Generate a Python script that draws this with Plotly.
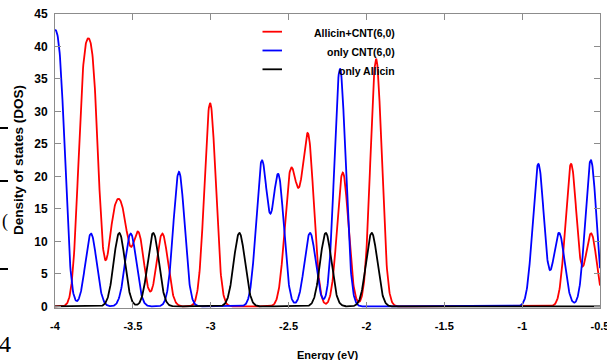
import numpy as np
import plotly.graph_objects as go

# ---------------- data ----------------
series_names = ["Allicin+CNT(6,0)", "only CNT(6,0)", "only Allicin"]

# energy levels (eV) and their broadened peak heights (DOS)
red_centers = [-3.8185, -3.7535, -3.623, -3.563, -3.465, -3.311, -3.004,
               -2.492, -2.440, -2.373, -2.152, -1.938, -0.686, -0.557]
red_heights = [31.0, 31.0, 11.7, 11.7, 11.2, 11.2, 31.3,
               18.0, 7.5, 25.1, 20.6, 38.1, 21.9, 11.2]

blue_centers = [-4.0325, -3.9675, -3.769, -3.514, -3.204, -2.672, -2.566,
                -2.362, -2.170, -0.896, -0.763, -0.559]
blue_heights = [32.0, 32.0, 11.2, 11.2, 20.7, 22.2, 20.1,
                11.3, 36.6, 21.9, 11.3, 22.5]

black_centers = [-3.587, -3.369, -2.816, -2.261, -1.966]
black_heights = [11.3, 11.3, 11.3, 11.3, 11.3]

broadening = 0.036  # gaussian smearing (eV)

x_ticks = [-4, -3.5, -3, -2.5, -2, -1.5, -1, -0.5]
x_tick_labels = ["-4", "-3.5", "-3", "-2.5", "-2", "-1.5", "-1", "-0.5"]
y_ticks = [0, 5, 10, 15, 20, 25, 30, 35, 40, 45]
y_tick_labels = [str(v) for v in y_ticks]

x_title = "Energy (eV)"
y_title = "Density of states (DOS)"

# ---------------- build ----------------
energy = np.linspace(-4.0, -0.5, 1751)


def dos(centers, heights):
    out = np.zeros_like(energy)
    for c, h in zip(centers, heights):
        out += h * np.exp(-(energy - c) ** 2 / (2 * broadening ** 2))
    return out


colors = ["#ff0000", "#0000ff", "#000000"]
curves = [dos(red_centers, red_heights),
          dos(blue_centers, blue_heights),
          dos(black_centers, black_heights)]

FONT = "Liberation Sans, Arial, sans-serif"

fig = go.Figure()
for name, col, yv in zip(series_names, colors, curves):
    fig.add_trace(go.Scatter(x=energy, y=yv, mode="lines", name=name,
                             line=dict(color=col, width=1.8),
                             showlegend=False, hoverinfo="skip"))

W, H = 607, 360
L, R, T, B = 55, 7, 14, 52
pw, ph = W - L - R, H - T - B


def px(xp):
    return (xp - L) / pw


def py(yp):
    return (H - B - yp) / ph


axis_gray = "#8c8c8c"
fig.update_layout(
    width=W, height=H,
    margin=dict(l=L, r=R, t=T, b=B, autoexpand=False),
    paper_bgcolor="white", plot_bgcolor="white",
    xaxis=dict(range=[-4, -0.5], tickvals=x_ticks, ticktext=x_tick_labels,
               automargin=False,
               showgrid=False, zeroline=False, showline=True, linecolor=axis_gray,
               linewidth=1, mirror="allticks", ticks="inside", ticklen=6,
               tickcolor=axis_gray, tickwidth=1, ticklabelstandoff=8,
               ticklabeloverflow="allow",
               tickfont=dict(family=FONT, size=11, color="black", weight="bold")),
    yaxis=dict(range=[-0.25, 45], tickvals=y_ticks, ticktext=y_tick_labels,
               automargin=False,
               showgrid=False, zeroline=False, showline=True, linecolor=axis_gray,
               linewidth=1, mirror="allticks", ticks="inside", ticklen=6,
               tickcolor=axis_gray, tickwidth=1, ticklabelstandoff=4,
               ticklabeloverflow="allow",
               tickfont=dict(family=FONT, size=12, color="black", weight="bold")),
)

annotations = [
    dict(text=x_title, xref="paper", yref="paper", x=0.5, y=py(355),
         xanchor="center", yanchor="middle", showarrow=False,
         font=dict(family=FONT, size=11, color="black", weight="bold")),
    dict(text=y_title, xref="paper", yref="paper", x=px(18), y=py(160),
         xanchor="center", yanchor="middle", showarrow=False, textangle=-90,
         font=dict(family=FONT, size=13.5, color="black", weight="bold")),
]
shapes = []

# manual legend (line on the left, right-aligned text)
leg_rows = [31.7, 50.5, 69.3]
for name, col, yy in zip(series_names, colors, leg_rows):
    shapes.append(dict(type="line", xref="paper", yref="paper",
                       x0=px(262.5), x1=px(282), y0=py(yy), y1=py(yy),
                       line=dict(color=col, width=1.8)))
    annotations.append(dict(text=name, xref="paper", yref="paper",
                            x=px(397), y=py(yy + 1.5), xanchor="right",
                            yanchor="middle", showarrow=False,
                            font=dict(family=FONT, size=10.5, color="black",
                                      weight="bold")))

# fragments of the surrounding page at the left edge
for yy in [128, 181, 269]:
    shapes.append(dict(type="line", xref="paper", yref="paper",
                       x0=px(0), x1=px(8), y0=py(yy), y1=py(yy),
                       line=dict(color="black", width=2)))
annotations.append(dict(text="(", xref="paper", yref="paper", x=px(5), y=py(221),
                        xanchor="center", yanchor="middle", showarrow=False,
                        font=dict(family="Liberation Serif, serif", size=18, color="black")))
annotations.append(dict(text="4", xref="paper", yref="paper", x=px(5), y=py(344),
                        xanchor="center", yanchor="middle", showarrow=False,
                        font=dict(family="Liberation Serif, serif", size=24, color="black")))

fig.update_layout(annotations=annotations, shapes=shapes)
fig.write_html("out.html", config={"displayModeBar": False},
               post_script="document.body.style.margin='0';document.body.style.padding='0';")
